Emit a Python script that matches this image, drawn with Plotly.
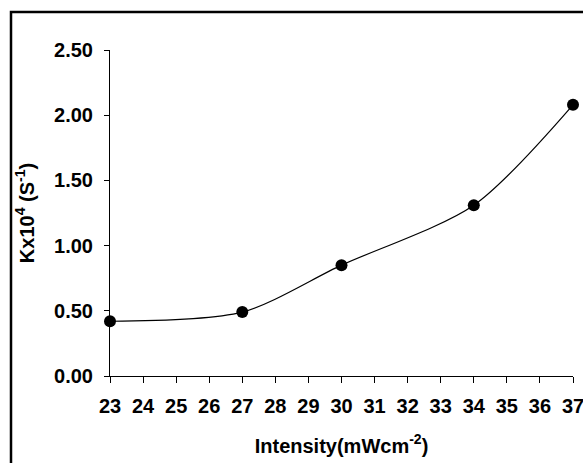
import plotly.graph_objects as go

intensity = [23, 27, 30, 34, 37]
k_values = [0.42, 0.49, 0.85, 1.31, 2.08]
x_ticks = list(range(23, 38))
y_ticks = [0.0, 0.5, 1.0, 1.5, 2.0, 2.5]

W, H = 583, 463
ml, mr, mt, mb = 110, 10, 50, 87
pw, ph = W - ml - mr, H - mt - mb

fig = go.Figure()
fig.add_trace(go.Scatter(
    x=intensity, y=k_values, mode="lines+markers",
    line=dict(color="black", width=1.2, shape="spline", smoothing=0.8),
    marker=dict(color="black", size=12),
    cliponaxis=False, showlegend=False,
))

font = dict(family="Liberation Sans, Arial", size=20, color="black")

fig.update_layout(
    width=W, height=H,
    margin=dict(l=ml, r=mr, t=mt, b=mb, autoexpand=False),
    paper_bgcolor="white", plot_bgcolor="white",
    font=font,
    xaxis=dict(
        range=[23, 37], tickmode="array", tickvals=x_ticks,
        ticktext=[f"<b>{v}</b>" for v in x_ticks],
        showgrid=False, zeroline=False, showline=True, linecolor="black", linewidth=1,
        ticks="outside", ticklen=6, tickcolor="black", ticklabeloverflow="allow",
        ticklabelstandoff=6, automargin=False,
        title=dict(text="<b>Intensity(mWcm<sup>-2</sup>)</b>", font=font, standoff=22),
    ),
    yaxis=dict(
        range=[0, 2.5], tickmode="array", tickvals=y_ticks,
        ticktext=[f"<b>{v:.2f}</b>" for v in y_ticks],
        showgrid=False, zeroline=False, showline=True, linecolor="black", linewidth=1,
        ticks="outside", ticklen=5, tickcolor="black",
        ticklabelstandoff=7, automargin=False,
        title=dict(text="<b>Kx10<sup>4</sup> (S<sup>-1</sup>)</b>", font=font, standoff=14),
    ),
    shapes=[dict(
        type="rect", xref="paper", yref="paper",
        x0=(11 - ml) / pw, x1=1.2,
        y0=-0.5, y1=(H - mb - 12) / ph,
        line=dict(color="black", width=2.5), layer="below",
    )],
)

fig.write_html("out.html")
